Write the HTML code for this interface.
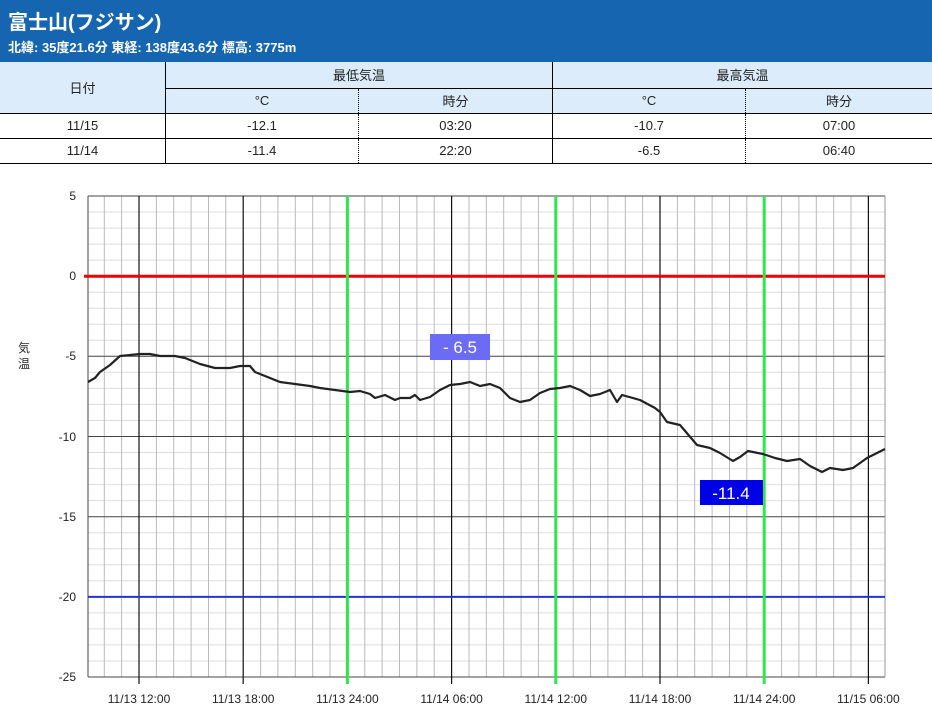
<!DOCTYPE html>
<html><head><meta charset="utf-8"><style>
body{margin:0;width:932px;height:724px;background:#fff;font-family:"Liberation Sans","Noto Sans CJK JP",sans-serif;overflow:hidden;position:relative}
.hd{position:absolute;left:0;top:0;width:932px;height:62px;background:#1565b0;color:#fff}
.hd .t{position:absolute;left:8px;top:6px;font-size:20px;font-weight:bold}
.hd .s{position:absolute;left:8px;top:37px;font-size:13px;font-weight:bold}
table{position:absolute;left:0;top:62px;width:932px;border-collapse:collapse;font-size:13px;color:#222}
td{text-align:center;padding:0;border-bottom:1px solid #000}
.h td{background:#dcecfb}
svg{position:absolute;left:0;top:0}
</style></head><body>
<div class="hd"><div class="t">富士山(フジサン)</div><div class="s">北緯: 35度21.6分 東経: 138度43.6分 標高: 3775m</div></div>
<table>
<tr class="h" style="height:26px"><td rowspan="2" style="width:165px;border-right:1px solid #000">日付</td><td colspan="2" style="border-right:1px solid #000">最低気温</td><td colspan="2">最高気温</td></tr>
<tr class="h" style="height:25px"><td style="width:192px;border-right:1px dotted #000;border-top:1px solid #000">°C</td><td style="width:193px;border-right:1px solid #000;border-top:1px solid #000">時分</td><td style="width:192px;border-right:1px dotted #000;border-top:1px solid #000">°C</td><td style="border-top:1px solid #000">時分</td></tr>
<tr style="height:25px"><td style="border-right:1px solid #000">11/15</td><td style="border-right:1px dotted #000">-12.1</td><td style="border-right:1px solid #000">03:20</td><td style="border-right:1px dotted #000">-10.7</td><td>07:00</td></tr>
<tr style="height:25px"><td style="border-right:1px solid #000">11/14</td><td style="border-right:1px dotted #000">-11.4</td><td style="border-right:1px solid #000">22:20</td><td style="border-right:1px dotted #000">-6.5</td><td>06:40</td></tr>
</table>
<svg width="932" height="724" font-family="Liberation Sans, Noto Sans CJK JP, sans-serif">
<path fill="none" stroke="#ddd" stroke-width="1" d="M88 212H885M88 228.1H885M88 244.1H885M88 260.1H885M88 292.2H885M88 308.2H885M88 324.2H885M88 340.3H885M88 372.3H885M88 388.4H885M88 404.4H885M88 420.5H885M88 452.5H885M88 468.6H885M88 484.6H885M88 500.6H885M88 532.7H885M88 548.7H885M88 564.8H885M88 580.8H885M88 612.9H885M88 628.9H885M88 644.9H885M88 661H885"/>
<path fill="none" stroke="#bbb" stroke-width="1" d="M104.3 196V677M121.6 196V677M156.4 196V677M173.7 196V677M191.1 196V677M208.5 196V677M225.8 196V677M260.6 196V677M277.9 196V677M295.3 196V677M312.7 196V677M330 196V677M364.8 196V677M382.1 196V677M399.5 196V677M416.9 196V677M434.2 196V677M469 196V677M486.3 196V677M503.7 196V677M521.1 196V677M538.4 196V677M573.2 196V677M590.5 196V677M607.9 196V677M625.3 196V677M642.6 196V677M677.4 196V677M694.7 196V677M712.1 196V677M729.5 196V677M746.8 196V677M781.6 196V677M798.9 196V677M816.3 196V677M833.7 196V677M851 196V677"/>
<path fill="none" stroke="#444" stroke-width="1" d="M88 196H885M88 356.3H885M88 436.5H885M88 516.7H885M88 677H885M88 196V677"/>
<line x1="885" y1="196" x2="885" y2="677" stroke="#999"/>
<path fill="none" stroke="#111" stroke-width="1.2" d="M139 196V684M243.2 196V684M451.6 196V684M660 196V684M868.4 196V684"/>
<line x1="84" y1="276.2" x2="885" y2="276.2" stroke="#e00" stroke-width="3"/>
<line x1="88" y1="596.9" x2="885" y2="596.9" stroke="#2233dd" stroke-width="2"/>
<path fill="none" stroke="#2ee84a" stroke-width="3" d="M347.4 196V684M555.8 196V684M764.2 196V684"/>
<g font-size="12" text-anchor="middle" fill="#222">
<text x="139" y="703">11/13 12:00</text><text x="243.2" y="703">11/13 18:00</text><text x="347.4" y="703">11/13 24:00</text><text x="451.6" y="703">11/14 06:00</text><text x="555.8" y="703">11/14 12:00</text><text x="660" y="703">11/14 18:00</text><text x="764.2" y="703">11/14 24:00</text><text x="868.4" y="703">11/15 06:00</text>
</g>
<g font-size="12" text-anchor="end" fill="#222">
<text x="76" y="200">5</text><text x="76" y="280">0</text><text x="76" y="360">-5</text><text x="76" y="441">-10</text><text x="76" y="521">-15</text><text x="76" y="601">-20</text><text x="76" y="681">-25</text>
</g>
<polyline fill="none" stroke="#222" stroke-width="2.2" stroke-linejoin="round" points="88,382 95,378 100,372 110,365 120,356 130,355 140,354 150,354 160,356 175,356 185,358 200,364 215,368 230,368 240,366 250,366 255,372 265,376 280,382 295,384 310,386 320,388 335,390 350,392 360,391 370,394 375,398 385,395 395,400 400,398 410,398 415,395 420,400 430,397 440,390 450,385 460,384 470,382 480,386 490,384 500,388 510,398 520,402 530,400 540,393 550,389 560,388 570,386 580,390 590,396 600,394 610,390 617,402 622,395 640,400 655,408 660,412 667,422 680,425 697,445 710,448 720,453 733,461 740,457 748,451 763,454 775,458 787,461 800,459 810,466 822,472 830,468 843,470 853,468 867,458 885,449"/>
<rect x="430" y="334" width="60" height="26" fill="#6b6bf5"/><text x="460" y="353" font-size="17" fill="#fff" text-anchor="middle">- 6.5</text>
<rect x="700" y="480" width="63" height="25" fill="#0000e6"/><text x="731" y="499" font-size="17" fill="#fff" text-anchor="middle">-11.4</text>
<text x="18" y="352" font-size="12" fill="#222">気</text><text x="18" y="368" font-size="12" fill="#222">温</text>
</svg>
</body></html>
